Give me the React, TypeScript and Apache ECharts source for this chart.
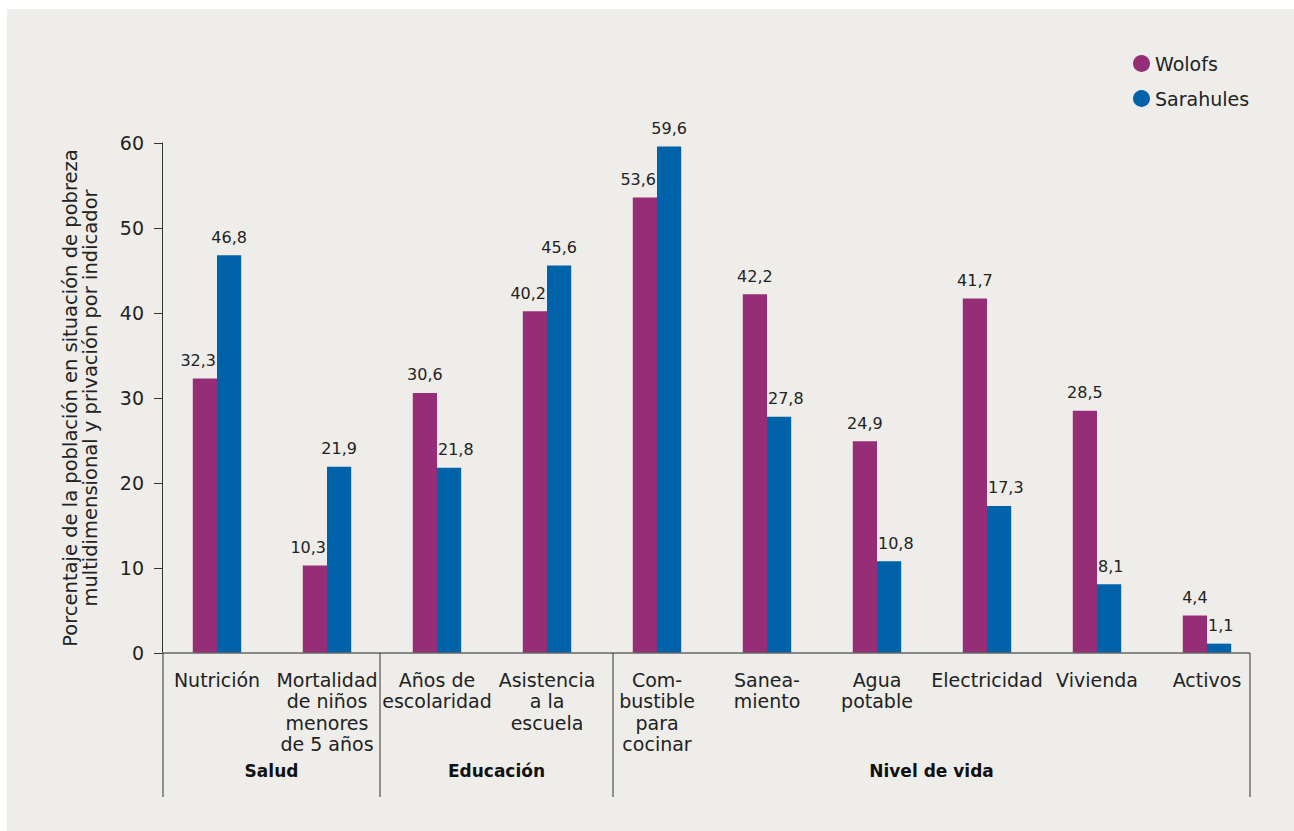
import React, { useEffect, useRef } from "react";
import * as echarts from "echarts";

const categories = [
  "Nutrición",
  "Mortalidad\nde niños\nmenores\nde 5 años",
  "Años de\nescolaridad",
  "Asistencia\na la\nescuela",
  "Com-\nbustible\npara\ncocinar",
  "Sanea-\nmiento",
  "Agua\npotable",
  "Electricidad",
  "Vivienda",
  "Activos",
];
const wolofs = [32.3, 10.3, 30.6, 40.2, 53.6, 42.2, 24.9, 41.7, 28.5, 4.4];
const sarahules = [46.8, 21.9, 21.8, 45.6, 59.6, 27.8, 10.8, 17.3, 8.1, 1.1];
const seriesNames = ["Wolofs", "Sarahules"];
const groups = ["Salud", "Educación", "Nivel de vida"];
const yTicks = { min: 0, max: 60, interval: 10 };
const yAxisTitle =
  "Porcentaje de la población en situación de pobreza\nmultidimensional y privación por indicador";

const FONT = "'DejaVu Sans'";
const BG = "#eeede9";
const PURPLE = "#952e76";
const BLUE = "#0062a9";

export default function App() {
  const ref = useRef<HTMLDivElement>(null);
  useEffect(() => {
    if (!ref.current) return;
    const chart = echarts.init(ref.current, null, { renderer: "svg" });
    const fmt = (p: any) => String(p.value).replace(".", ",");
    const dividerX = [156, 373, 606, 1243];
    const divTop = 644;
    const divBottom = 788;
    const graphics: any[] = [
      {
        type: "line",
        shape: { x1: 155, y1: divTop, x2: dividerX[3], y2: divTop },
        style: { stroke: "#666", lineWidth: 1.5 },
        z: 10,
      },
    ];
    dividerX.forEach((x) => {
      graphics.push({
        type: "line",
        shape: { x1: x, y1: divTop, x2: x, y2: divBottom },
        style: { stroke: "#333", lineWidth: 1 },
        z: 10,
      });
    });
    groups.forEach((g, i) => {
      graphics.push({
        type: "text",
        x: (dividerX[i] + dividerX[i + 1]) / 2,
        y: 762,
        style: {
          text: g,
          font: `bold 17px ${FONT}`,
          fill: "#111",
          textAlign: "center",
          textVerticalAlign: "middle",
        },
        z: 10,
      });
    });
    const labelCfg = {
      show: true,
      position: "top",
      distance: 10,
      formatter: fmt,
      fontSize: 16,
      color: "#222",
      fontFamily: FONT,
    };
    // When the neighbouring bar is taller, the label hugs the outer side.
    const purpleData = wolofs.map((v, i) =>
      sarahules[i] > v
        ? {
            value: v,
            label: { position: ["100%", 0], align: "right", verticalAlign: "bottom", offset: [-1, -10] },
          }
        : v
    );
    const blueData = sarahules.map((v, i) =>
      wolofs[i] > v
        ? {
            value: v,
            label: { position: [0, 0], align: "left", verticalAlign: "bottom", offset: [1, -10] },
          }
        : v
    );
    chart.setOption({
      animation: false,
      backgroundColor: BG,
      textStyle: { fontFamily: FONT },
      grid: { left: 155, right: 32, top: 134, bottom: 178, containLabel: false },
      legend: {
        orient: "vertical",
        left: 1121,
        top: 40,
        icon: "circle",
        itemWidth: 17,
        itemHeight: 17,
        itemGap: 16,
        textStyle: { fontSize: 19, color: "#222", fontFamily: FONT },
        data: seriesNames,
      },
      xAxis: {
        type: "category",
        data: categories,
        axisLine: { show: false },
        axisTick: { show: false },
        axisLabel: {
          interval: 0,
          margin: 16,
          fontSize: 19,
          lineHeight: 21.5,
          color: "#222",
          fontFamily: FONT,
          align: "center",
        },
      },
      yAxis: {
        type: "value",
        min: yTicks.min,
        max: yTicks.max,
        interval: yTicks.interval,
        name: yAxisTitle,
        nameLocation: "middle",
        nameGap: 62,
        nameTextStyle: { fontSize: 19.5, lineHeight: 20, color: "#222", fontFamily: FONT },
        axisLine: { show: true, lineStyle: { color: "#333", width: 1 } },
        axisTick: { show: true, length: 8, lineStyle: { color: "#333" } },
        axisLabel: { margin: 18, fontSize: 19, color: "#222", fontFamily: FONT },
        splitLine: { show: false },
      },
      series: [
        {
          name: seriesNames[0],
          type: "bar",
          data: purpleData,
          itemStyle: { color: PURPLE },
          barGap: "0%",
          barCategoryGap: "56%",
          label: labelCfg,
        },
        {
          name: seriesNames[1],
          type: "bar",
          data: blueData,
          itemStyle: { color: BLUE },
          barGap: "0%",
          barCategoryGap: "56%",
          label: labelCfg,
        },
      ],
      graphic: graphics,
    });
    return () => chart.dispose();
  }, []);
  return (
    <div
      ref={ref}
      style={{
        position: "fixed",
        left: 7,
        top: 9,
        width: 1287,
        height: 822,
        background: BG,
      }}
    />
  );
}
